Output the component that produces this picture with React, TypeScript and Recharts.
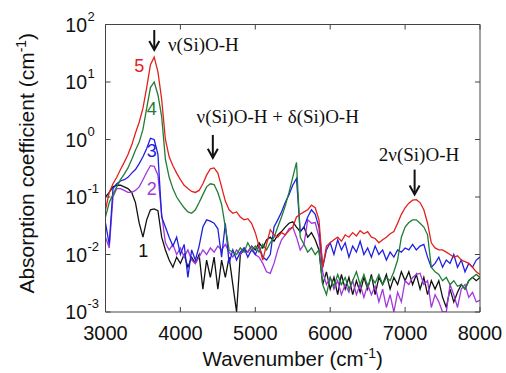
import { LineChart, Line, XAxis, YAxis, ReferenceLine, ReferenceDot } from "recharts";

// sample grid, cm-1
const wavenumbers = Array.from({ length: 101 }, (_, i) => 3000 + i * 50);

// absorption coefficient (cm-1), one value per wavenumber
const sample1 = [
  0.1, 0.12, 0.15, 0.16, 0.16, 0.15, 0.14, 0.12, 0.08, 0.035,
  0.02, 0.04, 0.06, 0.062, 0.058, 0.02, 0.012, 0.008, 0.006, 0.009,
  0.007, 0.01, 0.006, 0.009, 0.007, 0.01, 0.0025, 0.008, 0.004, 0.009,
  0.0025, 0.008, 0.004, 0.009, 0.003, 0.001, 0.01, 0.012, 0.011, 0.014,
  0.012, 0.016, 0.013, 0.018, 0.02, 0.017, 0.022, 0.025, 0.03, 0.035,
  0.037, 0.03, 0.025, 0.03, 0.02, 0.024, 0.018, 0.012, 0.003, 0.005,
  0.0025, 0.004, 0.002, 0.0045, 0.0025, 0.004, 0.002, 0.0035, 0.0022, 0.004,
  0.0025, 0.0045, 0.002, 0.004, 0.003, 0.0045, 0.0025, 0.004, 0.003, 0.005,
  0.0035, 0.005, 0.003, 0.0045, 0.0025, 0.004, 0.002, 0.0035, 0.0025, 0.0035,
  0.0018, 0.0012, 0.0025, 0.0015, 0.0022, 0.003, 0.0025, 0.0035, 0.004, 0.0035,
  0.004,
];
const sample2 = [
  0.02, 0.013, 0.1, 0.14, 0.14, 0.13, 0.12, 0.12, 0.13, 0.15,
  0.2, 0.27, 0.35, 0.34, 0.24, 0.05, 0.016, 0.012, 0.015, 0.01,
  0.013, 0.009, 0.012, 0.008, 0.007, 0.009, 0.012, 0.01, 0.013, 0.011,
  0.014, 0.012, 0.015, 0.011, 0.009, 0.012, 0.01, 0.013, 0.011, 0.014,
  0.01, 0.009, 0.007, 0.005, 0.0047, 0.007, 0.012, 0.018, 0.022, 0.028,
  0.03, 0.02, 0.012, 0.015, 0.04, 0.035, 0.036, 0.02, 0.005, 0.003,
  0.004, 0.0025, 0.0035, 0.002, 0.003, 0.0022, 0.0035, 0.002, 0.003, 0.0018,
  0.003, 0.002, 0.0028, 0.0015, 0.0025, 0.0012, 0.002, 0.001, 0.0022, 0.0015,
  0.0035, 0.003, 0.004, 0.0045, 0.0047, 0.003, 0.0035, 0.0012, 0.002, 0.0015,
  0.001, 0.001, 0.003, 0.002, 0.0012, 0.0025, 0.003, 0.0018, 0.0022, 0.0015,
  0.0016,
];
const sample3 = [
  0.035, 0.015, 0.14, 0.17, 0.19, 0.2, 0.22, 0.26, 0.3, 0.38,
  0.5, 0.7, 1.05, 1.0, 0.55, 0.045, 0.03, 0.02, 0.014, 0.02,
  0.01, 0.015, 0.004, 0.012, 0.008, 0.014, 0.03, 0.04, 0.038, 0.035,
  0.028, 0.009, 0.035, 0.007, 0.012, 0.008, 0.011, 0.013, 0.009, 0.012,
  0.01, 0.014, 0.009, 0.008, 0.01, 0.03, 0.04, 0.055, 0.08, 0.11,
  0.16, 0.21, 0.025, 0.03, 0.045, 0.06, 0.05, 0.03, 0.006, 0.012,
  0.016, 0.01, 0.018, 0.012, 0.016, 0.009, 0.014, 0.011, 0.017, 0.01,
  0.013, 0.009, 0.014, 0.01, 0.012, 0.008, 0.011, 0.009, 0.012, 0.011,
  0.013, 0.012, 0.015, 0.012, 0.014, 0.015, 0.009, 0.006, 0.007, 0.009,
  0.006, 0.008, 0.007, 0.01, 0.006, 0.008, 0.005, 0.007, 0.006, 0.008,
  0.009,
];
const sample4 = [
  0.045, 0.08, 0.11, 0.15, 0.2, 0.25, 0.32, 0.45, 0.65, 0.9,
  1.5, 3.5, 8, 10, 6, 2.5, 0.45, 0.22, 0.14, 0.1,
  0.08, 0.065, 0.055, 0.052, 0.06, 0.08, 0.11, 0.15, 0.17, 0.165,
  0.12, 0.075, 0.03, 0.012, 0.011, 0.01, 0.013, 0.011, 0.016, 0.012,
  0.014, 0.011, 0.015, 0.012, 0.016, 0.02, 0.03, 0.045, 0.07, 0.12,
  0.22, 0.4, 0.02, 0.015, 0.011, 0.013, 0.01, 0.012, 0.003, 0.002,
  0.004, 0.0028, 0.0045, 0.003, 0.004, 0.0025, 0.0035, 0.005, 0.003, 0.0045,
  0.0028, 0.004, 0.0032, 0.0045, 0.003, 0.004, 0.0035, 0.005, 0.008, 0.02,
  0.03, 0.036, 0.04, 0.04, 0.035, 0.03, 0.022, 0.006, 0.005, 0.0045,
  0.0035, 0.004, 0.003, 0.0035, 0.0028, 0.003, 0.0025, 0.0035, 0.004, 0.0045,
  0.004,
];
const sample5 = [
  0.06, 0.12, 0.17, 0.22, 0.3, 0.4, 0.55, 0.8, 1.3, 2.0,
  3.5, 8, 20, 27, 15, 5, 1.0, 0.5, 0.35, 0.26,
  0.2, 0.16, 0.14, 0.125, 0.12, 0.13, 0.17, 0.24, 0.31, 0.32,
  0.26, 0.15, 0.085, 0.06, 0.052, 0.055, 0.045, 0.04, 0.042, 0.035,
  0.024, 0.014, 0.008, 0.015, 0.027, 0.022, 0.02, 0.024, 0.022, 0.026,
  0.03, 0.045, 0.05, 0.055, 0.06, 0.072, 0.065, 0.04, 0.006, 0.014,
  0.016, 0.018, 0.02, 0.017, 0.022, 0.02, 0.024, 0.021, 0.026, 0.023,
  0.025, 0.02, 0.019, 0.016, 0.018, 0.02, 0.023, 0.025, 0.035, 0.05,
  0.065, 0.078, 0.088, 0.09, 0.08, 0.06, 0.035, 0.016, 0.013, 0.012,
  0.012, 0.011, 0.01, 0.009, 0.0095, 0.008, 0.0075, 0.007, 0.006, 0.005,
  0.0045,
];

const seriesKeys = ["s1", "s2", "s3", "s4", "s5"];
const seriesColors = ["#111111", "#a238dc", "#2020e0", "#1f7d35", "#e3211c"];
const seriesTags = [
  { text: "1", x: 3504, y: 0.0091 },
  { text: "2", x: 3616, y: 0.108 },
  { text: "3", x: 3616, y: 0.5 },
  { text: "4", x: 3616, y: 2.67 },
  { text: "5", x: 3450, y: 15 },
];

const xTicks = [3000, 4000, 5000, 6000, 7000, 8000];
const yTicks = [0.001, 0.01, 0.1, 1, 10, 100];

const bandLabels = [
  { text: "ν(Si)O-H", x: 3833, y: 35, anchor: "start" },
  { text: "ν(Si)O-H + δ(Si)O-H", x: 5300, y: 1.94, anchor: "middle" },
  { text: "2ν(Si)O-H", x: 7186, y: 0.42, anchor: "middle" },
];
const arrows = [
  { x: 3651, from: 80, to: 36 },
  { x: 4433, from: 1.2, to: 0.48 },
  { x: 7127, from: 0.3, to: 0.111 },
];

const data = wavenumbers.map((w, i) => ({
  w,
  s1: sample1[i],
  s2: sample2[i],
  s3: sample3[i],
  s4: sample4[i],
  s5: sample5[i],
}));

const AXIS = "#444";
const SANS = "'Liberation Sans', Arial, sans-serif";
const SERIF = "'Liberation Serif', 'Times New Roman', serif";

const BottomTick = (props: any) => {
  const { x, y, payload } = props;
  return (
    <g>
      <line x1={x} x2={x} y1={y} y2={y - 5} stroke={AXIS} />
      <text x={x} y={y + 28} textAnchor="middle" fontFamily={SANS} fontSize={20} fill="#111">
        {payload.value}
      </text>
    </g>
  );
};

const TopTick = (props: any) => {
  const { x, y } = props;
  return <line x1={x} x2={x} y1={y} y2={y + 5} stroke={AXIS} />;
};

const LeftTick = (props: any) => {
  const { x, y, payload } = props;
  const exp = Math.round(Math.log10(payload.value));
  return (
    <g fontFamily={SANS} fill="#111">
      <line x1={x} x2={x + 5} y1={y} y2={y} stroke={AXIS} />
      <text x={x - 18.5} y={y + 7} textAnchor="end" fontSize={19.5}>10</text>
      <text x={x - 18} y={y - 4} textAnchor="start" fontSize={13}>{exp}</text>
    </g>
  );
};

const RightTick = (props: any) => {
  const { x, y } = props;
  return <line x1={x} x2={x - 5} y1={y} y2={y} stroke={AXIS} />;
};

const Arrow = (props: any) => {
  const { x1, y1, x2, y2 } = props;
  return (
    <g stroke="#111" strokeWidth={2} fill="none">
      <line x1={x1} y1={y1} x2={x2} y2={y2 - 2} />
      <path d={`M${x2 - 5},${y2 - 9} L${x2},${y2} L${x2 + 5},${y2 - 9}`} />
    </g>
  );
};

export default function App() {
  return (
    <div style={{ position: "absolute", left: 0, top: 0 }}>
      <LineChart
        width={506}
        height={373}
        data={data}
        margin={{ top: 23.5, right: 25, bottom: 60, left: 104.5 }}
      >
        <XAxis
          dataKey="w"
          type="number"
          domain={[3000, 8000]}
          ticks={xTicks}
          interval={0}
          height={1}
          tickSize={0}
          tickMargin={0}
          tickLine={false}
          tick={BottomTick}
          stroke={AXIS}
          allowDataOverflow
          label={{
            content: ({ viewBox }: any) => (
              <text
                x={viewBox.x + viewBox.width / 2}
                y={viewBox.y + 54}
                textAnchor="middle"
                fontFamily={SANS}
                fontSize={20.5}
                fill="#111"
              >
                Wavenumber (cm<tspan dy={-8} fontSize={14}>-1</tspan>
                <tspan dy={8}>)</tspan>
              </text>
            ),
          }}
        />
        <XAxis
          xAxisId="top"
          orientation="top"
          type="number"
          dataKey="w"
          domain={[3000, 8000]}
          ticks={xTicks}
          interval={0}
          height={1}
          tickSize={0}
          tickMargin={0}
          tickLine={false}
          tick={TopTick}
          stroke={AXIS}
          allowDataOverflow
        />
        <YAxis
          type="number"
          scale="log"
          domain={[0.001, 100]}
          ticks={yTicks}
          interval={0}
          width={1}
          tickSize={0}
          tickMargin={0}
          tickLine={false}
          tick={LeftTick}
          stroke={AXIS}
          allowDataOverflow
          label={{
            content: ({ viewBox }: any) => {
              const cx = viewBox.x - 71;
              const cy = viewBox.y + viewBox.height / 2 - 5;
              return (
                <text
                  x={cx}
                  y={cy}
                  transform={`rotate(-90 ${cx} ${cy})`}
                  textAnchor="middle"
                  fontFamily={SANS}
                  fontSize={21}
                  fill="#111"
                >
                  Absorption coefficient (cm<tspan dy={-8} fontSize={14}>-1</tspan>
                  <tspan dy={8}>)</tspan>
                </text>
              );
            },
          }}
        />
        <YAxis
          yAxisId="right"
          orientation="right"
          type="number"
          scale="log"
          domain={[0.001, 100]}
          ticks={yTicks}
          interval={0}
          width={1}
          tickSize={0}
          tickMargin={0}
          tickLine={false}
          tick={RightTick}
          stroke={AXIS}
          allowDataOverflow
        />
        {seriesKeys.map((k, i) => (
          <Line
            key={k}
            dataKey={k}
            type="linear"
            stroke={seriesColors[i]}
            strokeWidth={1.3}
            dot={false}
            isAnimationActive={false}
          />
        ))}
        {arrows.map((a, i) => (
          <ReferenceLine
            key={`arrow-${i}`}
            segment={[
              { x: a.x, y: a.from },
              { x: a.x, y: a.to },
            ]}
            ifOverflow="visible"
            shape={Arrow}
          />
        ))}
        {bandLabels.map((b, i) => (
          <ReferenceDot
            key={`band-${i}`}
            x={b.x}
            y={b.y}
            r={1}
            ifOverflow="visible"
            shape={(p: any) => (
              <text
                x={p.cx}
                y={p.cy}
                textAnchor={b.anchor}
                fontFamily={SERIF}
                fontSize={19}
                fill="#111"
              >
                {b.text}
              </text>
            )}
          />
        ))}
        {seriesTags.map((t, i) => (
          <ReferenceDot
            key={`tag-${i}`}
            x={t.x}
            y={t.y}
            r={1}
            ifOverflow="visible"
            shape={(p: any) => (
              <text
                x={p.cx}
                y={p.cy}
                textAnchor="middle"
                fontFamily={SANS}
                fontSize={18}
                fill={seriesColors[i]}
              >
                {t.text}
              </text>
            )}
          />
        ))}
      </LineChart>
    </div>
  );
}
